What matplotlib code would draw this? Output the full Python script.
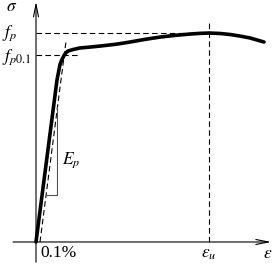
"""
预应力钢材应力-应变曲线示意图
"""
import matplotlib
matplotlib.use('Agg')
import matplotlib.pyplot as plt

plt.rcParams['mathtext.fontset'] = 'stix'
plt.rcParams['font.family'] = ['Liberation Serif', 'DejaVu Serif']

# 曲线数据 (应变 %, 应力 MPa)
strain = [0, 0.525, 0.6, 0.65, 0.7, 0.75, 0.8, 0.925, 1.1, 1.35, 1.6,
          2.0, 2.35, 2.75, 3.1, 3.5, 3.85, 4.1, 4.325, 4.6, 4.85, 5.1,
          5.35, 5.7]
stress = [0, 1442, 1580, 1625, 1660, 1685, 1700, 1713, 1727, 1735, 1744,
          1760, 1780, 1805, 1824, 1840, 1851, 1857, 1860, 1856, 1847,
          1833, 1816, 1780]

fp = 1860        # 抗拉强度
fp01 = 1664      # 0.1% 条件屈服强度
eps_u = 4.325    # 极限应变
offset = 0.1     # 0.1% 偏移
Ep = 2747        # 弹性模量 (MPa/%)

fig = plt.figure(figsize=(2.72, 2.64), dpi=100)
ax = fig.add_axes([0, 0, 1, 1])
ax.set_xlim(-0.9, 5.9)
ax.set_ylim(-196, 2154)
ax.axis('off')

# 坐标轴
arrow = dict(arrowstyle='->,head_length=0.9,head_width=0.18', lw=0.8,
             color='black', shrinkA=0, shrinkB=0)
ax.annotate('', xy=(5.88, 0), xytext=(-0.575, 0), arrowprops=arrow)
ax.annotate('', xy=(0, 2140), xytext=(0, -180), arrowprops=arrow)

# 虚线
dash = dict(color='black', lw=0.8, dashes=(5, 3))
ax.plot([0, eps_u], [fp, fp], **dash)
ax.plot([0, 1.05], [fp01, fp01], **dash)
ax.plot([eps_u, eps_u], [0, 1950], **dash)
top = 1790
ax.plot([offset, offset + top / Ep], [0, top], **dash)

# 弹性模量三角形
s_low, e_right = 418, 0.5375
ax.plot([offset + s_low / Ep, e_right, e_right],
        [s_low, s_low, (e_right - offset) * Ep], color='#555555', lw=0.8)

# 主曲线
ax.plot(strain, stress, color='black', lw=2.6, solid_capstyle='round',
        solid_joinstyle='round')

# 标注
fs = 12.5
ax.text(-0.6, 2090, r'$\sigma$', fontsize=fs, ha='center', va='center')
ax.text(-0.86, fp, r'$f_p$', fontsize=fs, ha='left', va='center')
ax.text(-0.86, fp01 - 20, r'$f_{p0.1}$', fontsize=fs, ha='left', va='center')
ax.text(0.65, 730, r'$E_p$', fontsize=fs, ha='left', va='center')
ax.text(0.1, -100, '0.1%', fontsize=fs, ha='left', va='center')
ax.text(eps_u, -110, r'$\varepsilon_u$', fontsize=fs, ha='center', va='center')
ax.text(5.68, -110, r'$\varepsilon$', fontsize=fs, ha='left', va='center')

fig.savefig('out.png', dpi=100)
